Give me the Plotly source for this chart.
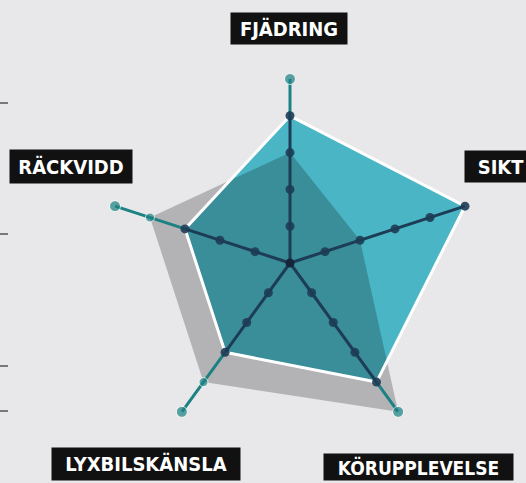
import plotly.graph_objects as go

categories = ["FJÄDRING", "SIKT", "KÖRUPPLEVELSE", "LYXBILSKÄNSLA", "RÄCKVIDD"]
teal_values = [4, 5, 4, 3, 3]
gray_values = [3, 2, 5, 4, 4]
levels = [1, 2, 3, 4, 5]
max_level = 5

BG = "#e8e8ea"
NAVY = "#1d3c55"
TEAL_DOT = "#1b8183"
TEAL_FILL = "rgb(74,181,196)"

W, H = 526, 483

fig = go.Figure()

def closed(v):
    return list(v) + [v[0]]

theta_c = closed(categories)

# gray shape base
fig.add_trace(go.Scatterpolar(r=closed(gray_values), theta=theta_c, mode="lines",
                              fill="toself", fillcolor="rgb(228,228,230)",
                              line=dict(color="rgba(0,0,0,0)", width=0), hoverinfo="skip"))
# teal shape
fig.add_trace(go.Scatterpolar(r=closed(teal_values), theta=theta_c, mode="lines",
                              fill="toself", fillcolor=TEAL_FILL,
                              line=dict(color="rgba(0,0,0,0)", width=0), hoverinfo="skip"))
# darkening overlay (gray shape, simulates multiply)
fig.add_trace(go.Scatterpolar(r=closed(gray_values), theta=theta_c, mode="lines",
                              fill="toself", fillcolor="rgba(0,0,0,0.21)",
                              line=dict(color="rgba(0,0,0,0)", width=0), hoverinfo="skip"))
# white border of teal
fig.add_trace(go.Scatterpolar(r=closed(teal_values), theta=theta_c, mode="lines",
                              line=dict(color="white", width=3), hoverinfo="skip"))

# spokes
for cat, tv in zip(categories, teal_values):
    fig.add_trace(go.Scatterpolar(r=[tv, max_level], theta=[cat, cat], mode="lines",
                                  line=dict(color=TEAL_DOT, width=3), hoverinfo="skip"))
    fig.add_trace(go.Scatterpolar(r=[0, tv], theta=[cat, cat], mode="lines",
                                  line=dict(color=NAVY, width=3), hoverinfo="skip"))
    inner = [l for l in levels if l <= tv]
    outer = [l for l in levels if l > tv]
    fig.add_trace(go.Scatterpolar(r=inner, theta=[cat] * len(inner), mode="markers",
                                  marker=dict(color=NAVY, size=9, opacity=0.9), hoverinfo="skip"))
    if outer:
        fig.add_trace(go.Scatterpolar(r=outer, theta=[cat] * len(outer), mode="markers",
                                      marker=dict(color=TEAL_DOT, size=[9] * (len(outer) - 1) + [11]),
                                      hoverinfo="skip"))

fig.add_trace(go.Scatterpolar(r=[0], theta=[categories[0]], mode="markers",
                              marker=dict(color="#16263a", size=9), hoverinfo="skip"))

cx, cy, R = 290, 263, 184
fig.update_layout(
    width=W, height=H,
    margin=dict(l=0, r=0, t=0, b=0),
    paper_bgcolor=BG, plot_bgcolor=BG,
    showlegend=False,
    polar=dict(
        domain=dict(x=[(cx - R) / W, (cx + R) / W], y=[(H - cy - R) / H, (H - cy + R) / H]),
        bgcolor="rgba(0,0,0,0)",
        radialaxis=dict(range=[0, max_level], visible=False, showgrid=False),
        angularaxis=dict(rotation=90, direction="clockwise", visible=False, showgrid=False,
                         categoryorder="array", categoryarray=categories),
    ),
)

labels = [
    (categories[0], 289, 29, 116, 31, "center", 20),
    (categories[1], 464, 167, 72, 31, "left", 20),
    (categories[2], 323, 467, 189, 26, "left", 19),
    (categories[3], 51, 464, 188, 32, "left", 20),
    (categories[4], 9, 167, 122, 33, "left", 20),
]
for text, px, py, bw, bh, anc, fs in labels:
    fig.add_annotation(x=px / W, y=1 - py / H, xref="paper", yref="paper",
                       text=text, showarrow=False, xanchor=anc, yanchor="middle",
                       bgcolor="#111111",
                       font=dict(family="DejaVu Sans Condensed", size=fs, color="white", weight=700),
                       width=bw, height=bh, borderpad=0, align="center", valign="middle")

for ty in [103, 234, 366, 411]:
    fig.add_shape(type="line", xref="paper", yref="paper", x0=0, x1=8 / W,
                  y0=1 - ty / H, y1=1 - ty / H, line=dict(color="#555555", width=1.5))

fig.write_html("out.html")
